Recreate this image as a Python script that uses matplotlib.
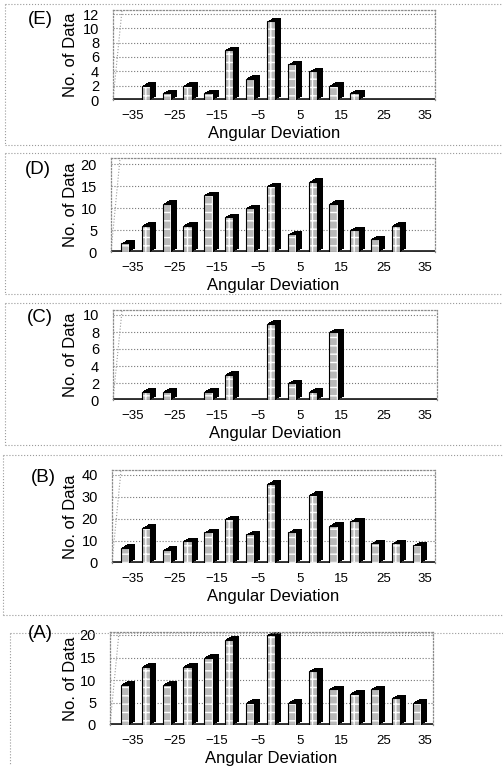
import matplotlib
matplotlib.use("Agg")
import matplotlib.pyplot as plt
from matplotlib.transforms import ScaledTranslation
from matplotlib.lines import Line2D

plt.rcParams['font.family'] = ['Liberation Sans', 'DejaVu Sans']

# ---------------- data ----------------
angles = [-35, -30, -25, -20, -15, -10, -5, 0, 5, 10, 15, 20, 25, 30, 35]
x_tick_values = [-35, -25, -15, -5, 5, 15, 25, 35]

counts_E = [0, 2, 1, 2, 1, 7, 3, 11, 5, 4, 2, 1, 0, 0, 0]
counts_D = [2, 6, 11, 6, 13, 8, 10, 15, 4, 16, 11, 5, 3, 6, 0]
counts_C = [0, 1, 1, 0, 1, 3, 0, 9, 2, 1, 8, 0, 0, 0, 0]
counts_B = [7, 16, 6, 10, 14, 20, 13, 36, 14, 31, 17, 19, 9, 9, 8]
counts_A = [9, 13, 9, 13, 15, 19, 5, 20, 5, 12, 8, 7, 8, 6, 5]

yticks_E = [0, 2, 4, 6, 8, 10, 12]
yticks_D = [0, 5, 10, 15, 20]
yticks_C = [0, 2, 4, 6, 8, 10]
yticks_B = [0, 10, 20, 30, 40]
yticks_A = [0, 5, 10, 15, 20]

panel_names = ['(E)', '(D)', '(C)', '(B)', '(A)']
x_label = 'Angular Deviation'
y_label = 'No. of Data'

# ---------------- layout (pixels) ----------------
W, H = 503, 766
DPI = 100
fig = plt.figure(figsize=(W / DPI, H / DPI), dpi=DPI)
fig.patch.set_facecolor('white')


def fy(py):
    return 1 - py / H


# per panel: (zero line px, top tick px, wall top px, axes left px, axes right px)
geom = [
    (100, 14, 10, 113, 435),
    (252, 164, 158, 111, 435),
    (400, 315, 310, 113, 437),
    (563, 475, 470, 112, 435),
    (725, 635, 632, 110, 433),
]
label_pos = [(40, 20), (38, 170), (40, 317), (43, 478), (40, 634)]

# panel frame lines: (top y, bottom y, left x)
frames = [(4, 145, 5), (153, 294, 5), (303, 445, 5), (455, 615, 3), (633, 766, 10)]

datasets = [counts_E, counts_D, counts_C, counts_B, counts_A]
ytick_sets = [yticks_E, yticks_D, yticks_C, yticks_B, yticks_A]

first_px, last_px = 125, 417  # pixel centers of first/last bar
bw = 2.0

for i in range(5):
    zero_px, tick_px, top_px, lpx, rpx = geom[i]
    counts = datasets[i]
    yt = ytick_sets[i]
    ax = fig.add_axes([lpx / W, fy(zero_px), (rpx - lpx) / W, (zero_px - top_px) / H])
    ymax = yt[-1] * (zero_px - top_px) / (zero_px - tick_px)
    ax.set_ylim(0, ymax)
    scale = (last_px - first_px) / (angles[-1] - angles[0])
    ax.set_xlim(angles[0] - (first_px - lpx) / scale, angles[-1] + (rpx - last_px) / scale)

    # walls and grid
    for s in ['top', 'right', 'left']:
        ax.spines[s].set_color('#8a8a8a')
        ax.spines[s].set_linestyle(':')
        ax.spines[s].set_linewidth(0.9)
    ax.spines['bottom'].set_visible(False)
    for t in yt[1:]:
        ax.axhline(t, color='#777777', ls=':', lw=0.8, zorder=0)
    ax.plot([0, 0.028], [0, 1], transform=ax.transAxes, color='#9a9a9a', lw=0.8,
            ls=':', clip_on=False, zorder=0)
    ax.axhline(0, color='#303030', lw=2.8, zorder=1)

    # 3D extrusion (dark side/top)
    for k in range(1, 7):
        off = ScaledTranslation(k / DPI, 0.55 * k / DPI, fig.dpi_scale_trans)
        ax.bar(angles, counts, width=bw, color='black', lw=0,
               transform=ax.transData + off, zorder=2)
    # front face
    ax.bar(angles, counts, width=bw, color='#b9b9b9', edgecolor='white',
           hatch='++', lw=0, zorder=3)
    ax.bar(angles, counts, width=bw, fill=False, edgecolor='black', lw=0.8, zorder=4)

    ax.set_yticks(yt)
    ax.set_yticklabels([str(v) for v in yt], fontsize=10.5)
    ax.set_xticks(x_tick_values)
    ax.set_xticklabels([str(v).replace('-', '\u2212') for v in x_tick_values], fontsize=9.5)
    ax.tick_params(axis='both', length=0)
    ax.tick_params(axis='y', pad=10)
    ax.tick_params(axis='x', pad=7)
    for lab in ax.get_xticklabels():
        lab.set_transform(lab.get_transform() + ScaledTranslation(8 / DPI, 0, fig.dpi_scale_trans))
    ax.set_xlabel(x_label, fontsize=12, labelpad=3)
    ax.set_ylabel(y_label, fontsize=12)
    ax.yaxis.set_label_coords((78 - lpx) / (rpx - lpx), 0.5)
    ax.patch.set_alpha(0)

    lx, ly = label_pos[i]
    fig.text(lx / W, fy(ly), panel_names[i], fontsize=13.5, ha='center', va='center')

    t, b, l = frames[i]
    fig.add_artist(Line2D([l / W, 1], [fy(t), fy(t)], transform=fig.transFigure,
                          ls=':', color='#9a9a9a', lw=0.8))
    if b < H:
        fig.add_artist(Line2D([l / W, 1], [fy(b), fy(b)], transform=fig.transFigure,
                              ls=':', color='#9a9a9a', lw=0.8))
    fig.add_artist(Line2D([l / W, l / W], [fy(t), fy(min(b, H - 1))], transform=fig.transFigure,
                          ls=':', color='#9a9a9a', lw=0.8))

fig.savefig('out.png', dpi=DPI, facecolor='white')
